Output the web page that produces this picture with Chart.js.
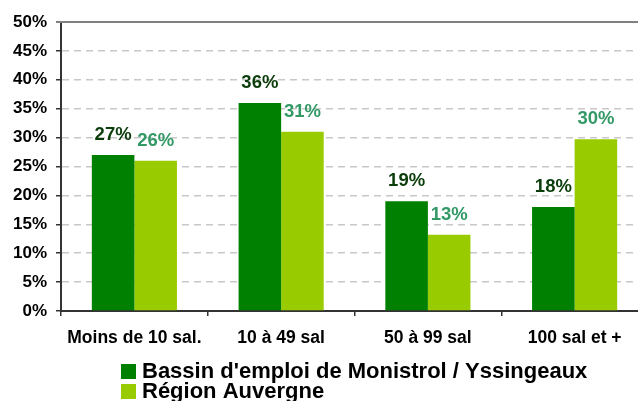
<!DOCTYPE html>
<html>
<head>
<meta charset="utf-8">
<script src="https://cdn.jsdelivr.net/npm/chart.js@4.4.0/dist/chart.umd.min.js"></script>
<style>
    html, body { margin: 0; padding: 0; background: #fff; overflow: hidden; }
    #wrap { width: 660px; height: 401px; }
</style>
</head>
<body>
<div id="wrap"><canvas id="chart" width="660" height="401"></canvas></div>
<script>
// Données
const categories = ['Moins de 10 sal.', '10 à 49 sal', '50 à 99 sal', '100 sal et +'];
const seriesNames = ["Bassin d'emploi de Monistrol / Yssingeaux", 'Région Auvergne'];
const bassinValues = [27, 36, 19, 18];
const regionValues = [26, 31, 13.2, 29.7];
const yTicks = [0, 5, 10, 15, 20, 25, 30, 35, 40, 45, 50];

const barColors = ['#008000', '#99cc00'];
const labelColors = ['#0b3d0b', '#339966'];
const FONT = '"Liberation Sans", Arial, sans-serif';

// Étiquettes de valeurs au-dessus des barres
const valueLabels = {
    id: 'valueLabels',
    afterDatasetsDraw(chart) {
        const ctx = chart.ctx;
        ctx.save();
        ctx.font = 'bold 18.5px ' + FONT;
        ctx.textAlign = 'center';
        ctx.textBaseline = 'middle';
        chart.data.datasets.forEach((ds, i) => {
            chart.getDatasetMeta(i).data.forEach((bar, j) => {
                ctx.fillStyle = labelColors[i];
                ctx.fillText(Math.round(ds.data[j]) + '%', bar.x, bar.y - 20);
            });
        });
        ctx.restore();
    }
};

// Ligne pleine en haut (50%) + légende verticale
const extras = {
    id: 'extras',
    afterDraw(chart) {
        const ctx = chart.ctx;
        const y = chart.scales.y;
        const area = chart.chartArea;
        ctx.save();
        const top = y.getPixelForValue(50);
        ctx.strokeStyle = '#808080';
        ctx.lineWidth = 2;
        ctx.beginPath();
        ctx.moveTo(area.left - 5, top);
        ctx.lineTo(area.right, top);
        ctx.stroke();

        ctx.font = 'bold 22px ' + FONT;
        ctx.textAlign = 'left';
        ctx.textBaseline = 'middle';
        chart.data.datasets.forEach((ds, i) => {
            const cy = 371 + i * 20;
            ctx.fillStyle = ds.backgroundColor;
            ctx.fillRect(121, cy - 7, 15, 15);
            ctx.fillStyle = '#000';
            ctx.fillText(ds.label, 142, cy + 1);
        });
        ctx.restore();
    }
};

new Chart(document.getElementById('chart'), {
    type: 'bar',
    data: {
        labels: categories,
        datasets: [
            { label: seriesNames[0], data: bassinValues, backgroundColor: barColors[0] },
            { label: seriesNames[1], data: regionValues, backgroundColor: barColors[1] }
        ]
    },
    options: {
        responsive: false,
        animation: false,
        events: [],
        categoryPercentage: 0.58,
        barPercentage: 1,
        layout: { padding: { top: 22, left: 4, right: 12, bottom: 40 } },
        plugins: { legend: { display: false }, tooltip: { enabled: false } },
        scales: {
            x: {
                grid: { drawOnChartArea: false, drawTicks: true, tickLength: 5, tickColor: '#333', lineWidth: 1.5 },
                border: { color: '#333', width: 2 },
                ticks: { color: '#000', font: { family: FONT, size: 17.5, weight: 'bold' }, padding: 12 }
            },
            y: {
                min: 0,
                max: 50,
                afterBuildTicks: scale => { scale.ticks = yTicks.map(v => ({ value: v })); },
                grid: {
                    color: c => (c.tick.value === 0 || c.tick.value === 50) ? 'rgba(0,0,0,0)' : '#c8c8c8',
                    lineWidth: 1.5,
                    drawTicks: true,
                    tickLength: 5,
                    tickColor: '#333'
                },
                border: { color: '#333', width: 2, dash: [7, 5] },
                ticks: {
                    color: '#000',
                    padding: 9,
                    font: { family: FONT, size: 17, weight: 'bold' },
                    callback: v => v + '%'
                }
            }
        }
    },
    plugins: [valueLabels, extras]
});
</script>
</body>
</html>
